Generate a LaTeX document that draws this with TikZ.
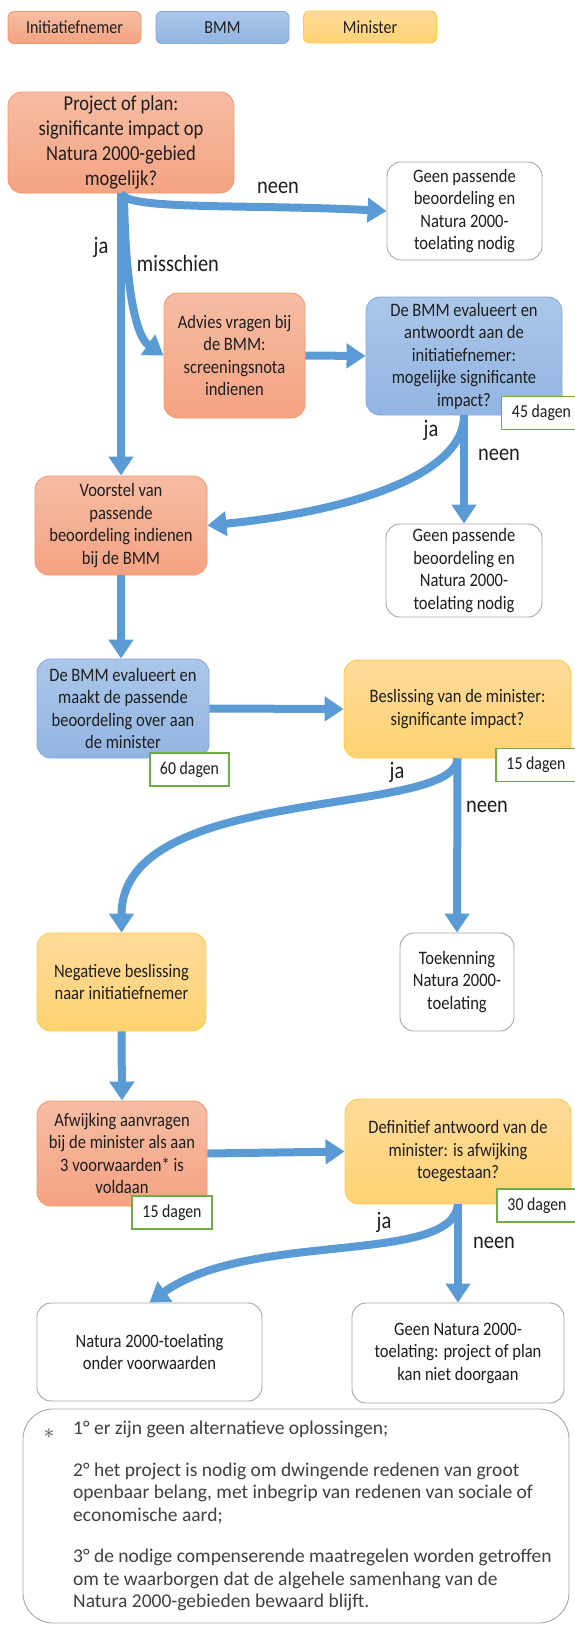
\documentclass[tikz,border=0pt]{standalone}
\usepackage{fontspec}
\setmainfont{Carlito}[FakeStretch=0.87]
\newfontfamily\notefont{Carlito}
\usetikzlibrary{arrows.meta}
\definecolor{initA}{HTML}{F6BDA4}
\definecolor{initB}{HTML}{F4A382}
\definecolor{initD}{HTML}{F2996F}
\definecolor{bmmA}{HTML}{ABC7E9}
\definecolor{bmmB}{HTML}{93B5E2}
\definecolor{bmmD}{HTML}{84AADB}
\definecolor{minA}{HTML}{FFDB9A}
\definecolor{minB}{HTML}{FFD372}
\definecolor{minD}{HTML}{FFCB45}
\definecolor{cblue}{HTML}{5B9BD5}
\definecolor{cgreen}{HTML}{70AD47}
\definecolor{cgray}{HTML}{A6A6A6}
\definecolor{ctext}{HTML}{1E1E1E}
\definecolor{cnote}{HTML}{404040}

\begin{document}
\begin{tikzpicture}[x=1pt, y=1pt,
  box/.style={rounded corners=14pt, align=center, inner sep=0pt, text=ctext,
    font=\fontsize{19}{22.5}\selectfont, line width=0.9pt},
  initbox/.style={box, top color=initA, bottom color=initB, draw=initD},
  bmmbox/.style={box, top color=bmmA, bottom color=bmmB, draw=bmmD},
  minbox/.style={box, top color=minA, bottom color=minB, draw=minD},
  endbox/.style={box, fill=white, draw=cgray},
  legbox/.style={rounded corners=6pt, inner sep=0pt, text=ctext, line width=0.9pt,
    font=\fontsize{18.4}{20}\selectfont, minimum width=133pt, minimum height=32pt},
  days/.style={draw=cgreen, fill=white, line width=1.2pt, inner sep=0pt, text=ctext,
    font=\fontsize{18.2}{20}\selectfont, minimum width=80pt, minimum height=33pt},
  flow/.style={draw=cblue, line width=8pt, -{Triangle[width=24pt,length=19pt]}},
  lbl/.style={font=\fontsize{23.5}{24}\selectfont, text=ctext}
]
  \useasboundingbox (0,0) rectangle (574,-1625);

  % Legend
  \node[legbox, top color=initA, bottom color=initB, draw=initD] (leginit) at (74.5,-27.5) {Initiatiefnemer};
  \node[legbox, top color=bmmA, bottom color=bmmB, draw=bmmD] (legbmm) at (222.5,-27.5) {BMM};
  \node[legbox, top color=minA, bottom color=minB, draw=minD] (legmin) at (370,-27) {Minister};

  % Boxes
  \node[initbox, minimum width=226pt, minimum height=101pt, font=\fontsize{21.3}{25}\selectfont] (start) at (121,-142.5)
    {Project of plan:\\significante impact op\\Natura 2000-gebied\\mogelijk?};
  \node[endbox, minimum width=155pt, minimum height=98pt] (geen1) at (464.5,-211)
    {Geen passende\\beoordeling en\\Natura 2000-\\toelating nodig};
  \node[initbox, minimum width=141pt, minimum height=125pt] (advies) at (234.5,-355.5)
    {Advies vragen bij\\de BMM:\\screeningsnota\\indienen};
  \node[bmmbox, minimum width=196pt, minimum height=118pt] (bmm1) at (464,-356)
    {De BMM evalueert en\\antwoordt aan de\\initiatiefnemer:\\mogelijke significante\\impact?};
  \node[endbox, minimum width=156pt, minimum height=93pt] (geen2) at (464,-570.5)
    {Geen passende\\beoordeling en\\Natura 2000-\\toelating nodig};
  \node[initbox, minimum width=172pt, minimum height=99pt] (voorstel) at (121,-525.5)
    {Voorstel van\\passende\\beoordeling indienen\\bij de BMM};
  \node[bmmbox, minimum width=172pt, minimum height=99pt] (bmm2) at (123,-708.5)
    {De BMM evalueert en\\maakt de passende\\beoordeling over aan\\de minister};
  \node[minbox, minimum width=227pt, minimum height=98pt] (min1) at (457.5,-709)
    {Beslissing van de minister:\\significante impact?};
  \node[minbox, minimum width=169pt, minimum height=98pt] (neg) at (121.5,-982)
    {Negatieve beslissing\\naar initiatiefnemer};
  \node[endbox, minimum width=114pt, minimum height=98pt] (toek) at (457,-982)
    {Toekenning\\Natura 2000-\\toelating};
  \node[initbox, minimum width=170pt, minimum height=105pt] (afw) at (122,-1153.5)
    {Afwijking aanvragen\\bij de minister als aan\\3 voorwaarden* is\\voldaan};
  \node[minbox, minimum width=226pt, minimum height=105pt] (min2) at (458,-1151.5)
    {Definitief antwoord van de\\minister: is afwijking\\toegestaan?};
  \node[endbox, minimum width=225pt, minimum height=98pt] (nat) at (149.5,-1352)
    {Natura 2000-toelating\\onder voorwaarden};
  \node[endbox, minimum width=212pt, minimum height=100pt] (geen3) at (458,-1353)
    {Geen Natura 2000-\\toelating: project of plan\\kan niet doorgaan};

  % Days
  \node[days] (d45) at (541.5,-413) {45 dagen};
  \node[days, minimum width=79pt] (d60) at (189.5,-769.5) {60 dagen};
  \node[days] (d15a) at (536,-765) {15 dagen};
  \node[days] (d15b) at (172,-1212.5) {15 dagen};
  \node[days] (d30) at (537,-1205.5) {30 dagen};

  % Arrows
  \draw[flow] (start.south) .. controls +(6,-17) and +(-138,7) .. (geen1.west);
  \draw[flow] (start.south) -- (voorstel.north);
  \draw[flow] ([xshift=3pt]start.south) .. controls +(1,-87) and +(-29,20) .. (advies.west);
  \draw[flow] (advies.east) -- (bmm1.west);
  \draw[flow] (bmm1.south) -- (geen2.north);
  \draw[flow] (bmm1.south) .. controls +(0,-65) and +(123,12) .. (voorstel.east);
  \draw[flow] (voorstel.south) -- (voorstel.south |- bmm2.north);
  \draw[flow] (bmm2.east) -- (min1.west);
  \draw[flow] (min1.south) -- (toek.north);
  \draw[flow] (min1.south) .. controls +(-2,-60) and +(0,150) .. (neg.north);
  \draw[flow] (neg.south) -- (afw.north);
  \draw[flow] (afw.east) -- (min2.west);
  \draw[flow] (min2.south) -- (geen3.north);
  \draw[flow] (min2.south) .. controls +(-6,-61) and +(100,72) .. (nat.north);

  % Labels
  \node[lbl] (l1) at (278,-188) {neen};
  \node[lbl] (l2) at (101,-247) {ja};
  \node[lbl] (l3) at (178,-263) {misschien};
  \node[lbl] (l4) at (431,-430) {ja};
  \node[lbl] (l5) at (499,-455) {neen};
  \node[lbl] (l6) at (397,-772) {ja};
  \node[lbl] (l7) at (487,-807) {neen};
  \node[lbl] (l8) at (384,-1222) {ja};
  \node[lbl] (l9) at (494,-1243) {neen};

  % Footnote
  \node[draw=cgray, line width=0.9pt, rounded corners=30pt, minimum width=546pt, minimum height=214pt] (foot) at (296,-1516) {};
  \node[text=cnote, font=\fontsize{20}{22.5}\selectfont] (star) at (49,-1434) {$\ast$};
  \node[text=cnote, font=\notefont\fontsize{19.5}{22.5}\selectfont, align=left, anchor=north west, inner sep=0pt] (items) at (73,-1421)
    {1° er zijn geen alternatieve oplossingen;\\[19pt]
     2° het project is nodig om dwingende redenen van groot\\
     openbaar belang, met inbegrip van redenen van sociale of\\
     economische aard;\\[19pt]
     3° de nodige compenserende maatregelen worden getroffen\\
     om te waarborgen dat de algehele samenhang van de\\
     Natura 2000-gebieden bewaard blijft.};
\end{tikzpicture}
\end{document}
